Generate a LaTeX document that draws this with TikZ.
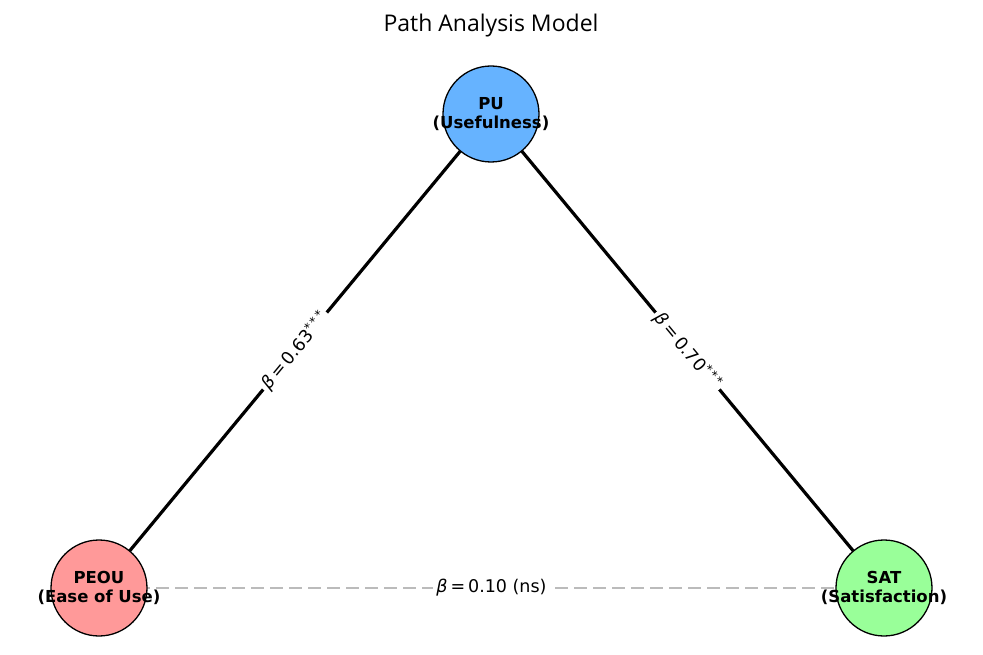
\documentclass[tikz,border=0pt]{standalone}
\usepackage{fontspec}
\setmainfont{DejaVu Sans}
\newfontfamily\titlefont{Open Sans}
\usetikzlibrary{backgrounds}
\definecolor{pucol}{HTML}{66B3FF}
\definecolor{peoucol}{HTML}{FF9999}
\definecolor{satcol}{HTML}{99FF99}
\definecolor{nscol}{HTML}{BBBBBB}
\tikzset{
  construct/.style={circle, draw=black, line width=1.3pt, minimum size=96pt, inner sep=0pt},
  constext/.style={font=\bfseries\fontsize{16.5}{18.5}\selectfont, align=center},
  pathline/.style={line width=3.2pt, black},
  nsline/.style={line width=2.6pt, nscol, dash pattern=on 13pt off 6pt},
  coef/.style={fill=white, text=black, inner sep=3pt, font=\fontsize{17.5}{20}\selectfont}
}
\newcommand{\coefstars}{\textsuperscript{*\,*\,*}}
\begin{document}
\begin{tikzpicture}[x=1pt, y=-1pt]
  \useasboundingbox (0,0) rectangle (983,655);
  \node[font=\titlefont\fontsize{23}{27}\selectfont] (title) at (491,26) {Path Analysis Model};
  \node[construct, fill=pucol, label={[constext]center:PU\\(Usefulness)}] (PU) at (491,114) {};
  \node[construct, fill=peoucol, label={[constext]center:PEOU\\(Ease of Use)}] (PEOU) at (99,588) {};
  \node[construct, fill=satcol, label={[constext]center:SAT\\(Satisfaction)}] (SAT) at (884,588) {};
  \begin{scope}[on background layer]
    \draw[pathline] (PEOU.center) -- (PU.center)
      node[coef, midway, sloped] (b1) {\textit{β}\,=\,0.63\coefstars};
    \draw[pathline] (PU.center) -- (SAT.center)
      node[coef, midway, sloped] (b2) {\textit{β}\,=\,0.70\coefstars};
    \draw[nsline] (PEOU.center) -- (SAT.center)
      node[coef, midway] (b3) {\textit{β}\,=\,0.10 (ns)};
  \end{scope}
\end{tikzpicture}
\end{document}
